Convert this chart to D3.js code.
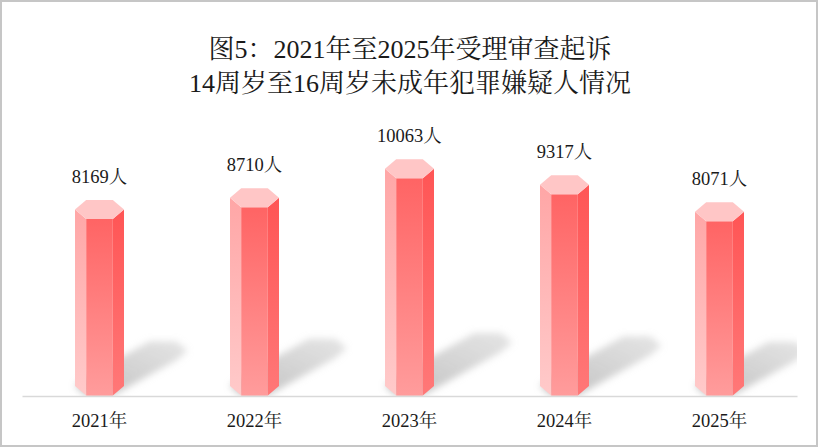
<!DOCTYPE html>
<html>
<head>
<meta charset="utf-8">
<script src="https://cdn.jsdelivr.net/npm/d3@7/dist/d3.min.js"></script>
<style>
  html, body { margin: 0; padding: 0; background: #fff; }
  svg { display: block; }
</style>
</head>
<body>
<svg id="chart" width="819" height="448"></svg>
<script>
// ---- data ----
const titleLines = ["图5：2021年至2025年受理审查起诉", "14周岁至16周岁未成年犯罪嫌疑人情况"];
const years = ["2021年", "2022年", "2023年", "2024年", "2025年"];
const values = [8169, 8710, 10063, 9317, 8071];
const unit = "人";

// ---- setup ----
const W = 819, H = 448;
const svg = d3.select("#chart");
const serif = "'Liberation Serif','Times New Roman','Noto Serif CJK SC','Noto Sans CJK SC',serif";

const baseY = 386;        // hexagon centre at the base
const axisY = 396;        // axis line
const x = d3.scaleBand().domain(years).range([22, 797]);
const y = d3.scaleLinear().domain([0, 12000]).range([baseY, baseY - 0.0216 * 12000]);

const hw = 24.5, fw = 13.3, dv = 9.5;

const defs = svg.append("defs");
function vgrad(id, top, bottom) {
  const g = defs.append("linearGradient").attr("id", id)
    .attr("x1", 0).attr("y1", 0).attr("x2", 0).attr("y2", 1);
  g.append("stop").attr("offset", "0%").attr("stop-color", top);
  g.append("stop").attr("offset", "100%").attr("stop-color", bottom);
}
vgrad("gLeft", "#ffa6a6", "#ffcaca");
vgrad("gFront", "#ff6464", "#ff9c9c");
vgrad("gRight", "#ff5555", "#ff7878");

const sg = defs.append("linearGradient").attr("id", "gShadow")
  .attr("x1", 0).attr("y1", 1).attr("x2", 1).attr("y2", 0);
sg.append("stop").attr("offset", "0%").attr("stop-color", "#a8a8a8").attr("stop-opacity", 0.75);
sg.append("stop").attr("offset", "100%").attr("stop-color", "#c4c4c4").attr("stop-opacity", 0.45);

defs.append("filter").attr("id", "blur").attr("x", "-30%").attr("y", "-30%")
  .attr("width", "160%").attr("height", "160%")
  .append("feGaussianBlur").attr("stdDeviation", 3.5);

defs.append("clipPath").attr("id", "plotClip")
  .append("rect").attr("x", 22).attr("y", 0).attr("width", 775).attr("height", axisY);

// background + border
svg.append("rect").attr("x", 0).attr("y", 0).attr("width", W).attr("height", H).attr("fill", "#fff");
svg.append("rect").attr("x", 1).attr("y", 1).attr("width", 816).attr("height", 445)
  .attr("fill", "none").attr("stroke", "#c6c6c6").attr("stroke-width", 2);

// title
const title = svg.append("text").attr("text-anchor", "middle")
  .attr("font-family", serif).attr("font-size", 26).attr("fill", "#1a1a1a");
title.selectAll("tspan").data(titleLines).join("tspan")
  .attr("x", 410).attr("y", (d, i) => i === 0 ? 57.5 : 92).text(d => d);

const pts = a => a.map(p => p.join(",")).join(" ");

// shadows
const shadowG = svg.append("g").attr("clip-path", "url(#plotClip)");
years.forEach((yr, i) => {
  const cx = x(yr) + x.bandwidth() / 2;
  const yt = y(values[i]), yb = y(0);
  const h = yb - yt;
  const dx = 0.36 * h, dy = -0.2 * h;
  const hex = [[cx - hw, yb], [cx - fw, yb - dv], [cx + fw, yb - dv], [cx + hw, yb], [cx + fw, yb + dv], [cx - fw, yb + dv]];
  const far = hex.map(p => [p[0] + dx, p[1] + dy]);
  const hull = d3.polygonHull(hex.concat(far));
  shadowG.append("polygon").attr("points", pts(hull))
    .attr("fill", "url(#gShadow)").attr("filter", "url(#blur)");
});

// axis
const axis = svg.append("g").attr("transform", `translate(0,${axisY})`)
  .call(d3.axisBottom(x).tickSize(0));
axis.select(".domain").attr("stroke", "#d9d9d9").attr("stroke-width", 1.5);
axis.selectAll("text").attr("dy", null).attr("y", 31)
  .attr("font-family", serif).attr("font-size", 18.5).attr("fill", "#1a1a1a");

// bars
const bars = svg.append("g");
years.forEach((yr, i) => {
  const cx = x(yr) + x.bandwidth() / 2;
  const yt = y(values[i]), yb = y(0);
  const g = bars.append("g");
  g.append("polygon").attr("fill", "url(#gLeft)")
    .attr("points", pts([[cx - hw, yt], [cx - fw, yt + dv], [cx - fw, yb + dv], [cx - hw, yb]]));
  g.append("polygon").attr("fill", "url(#gFront)")
    .attr("points", pts([[cx - fw, yt + dv], [cx + fw, yt + dv], [cx + fw, yb + dv], [cx - fw, yb + dv]]));
  g.append("polygon").attr("fill", "url(#gRight)")
    .attr("points", pts([[cx + fw, yt + dv], [cx + hw, yt], [cx + hw, yb], [cx + fw, yb + dv]]));
  g.append("polygon").attr("fill", "#ffc6c6")
    .attr("points", pts([[cx - hw, yt], [cx - fw, yt - dv], [cx + fw, yt - dv], [cx + hw, yt], [cx + fw, yt + dv], [cx - fw, yt + dv]]));
  svg.append("text").attr("x", cx).attr("y", yt - dv - 17)
    .attr("text-anchor", "middle").attr("font-family", serif).attr("font-size", 18.5)
    .attr("fill", "#1a1a1a").text(values[i] + unit);
});
</script>
</body>
</html>
